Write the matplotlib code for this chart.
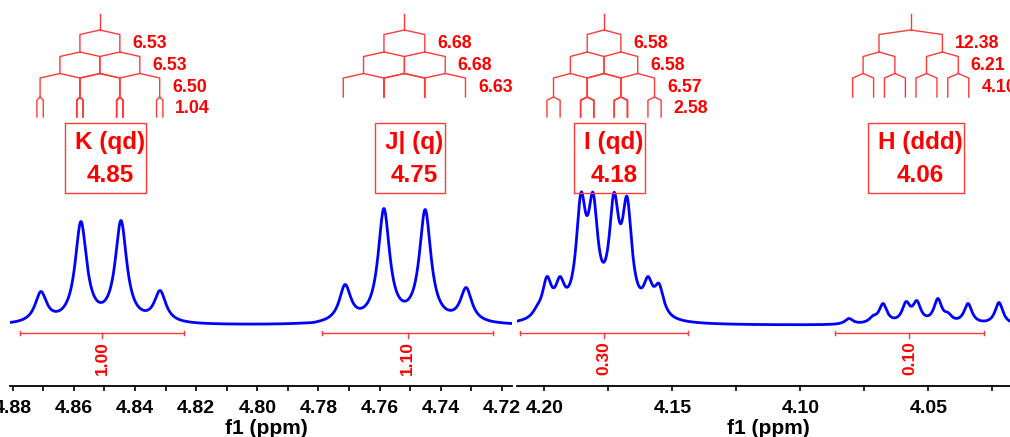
import numpy as np
import matplotlib.pyplot as plt
from matplotlib.patches import Rectangle
from matplotlib.transforms import IdentityTransform

plt.rcParams['font.family'] = ['Liberation Sans', 'DejaVu Sans']
plt.rcParams['font.weight'] = 'bold'

MHZ = 500.0
RED = '#FF0000'
LINE_RED = '#FF3A3A'
BLUE = '#0000FF'

# ---- data ----
# left panel: shift (ppm), height above baseline, half width (ppm)
left_ppm = [4.8708, 4.8577, 4.8446, 4.8318, 4.7818, 4.7713, 4.7586, 4.7451, 4.7317]
left_height = [34, 104, 105, 35, 3, 41, 117, 116, 38]
left_hw = [0.0023, 0.0023, 0.0023, 0.0023, 0.0020, 0.0023, 0.0023, 0.0023, 0.0023]
left_ticks = [4.88, 4.86, 4.84, 4.82, 4.80, 4.78, 4.76, 4.74, 4.72]
left_minor = [4.87, 4.85, 4.83, 4.81, 4.79, 4.77, 4.75, 4.73]

# right panel
right_ppm = [4.2029, 4.1990, 4.1939, 4.1857, 4.1810, 4.1728, 4.1677, 4.1595, 4.1552,
             4.0810, 4.0716, 4.0677, 4.0587, 4.0545, 4.0463, 4.0423, 4.0345, 4.0224]
right_height = [20, 49, 49, 133, 133, 133, 129, 49, 42,
                7, 10, 22, 24, 25, 27, 13, 22, 23]
right_hw = [0.0022, 0.0022, 0.0022, 0.0023, 0.0023, 0.0023, 0.0023, 0.0022, 0.0022,
            0.0019, 0.0019, 0.0019, 0.0019, 0.0019, 0.0019, 0.0019, 0.0019, 0.0019]
right_ticks = [4.20, 4.15, 4.10, 4.05]
right_minor = [4.175, 4.125, 4.075, 4.025]

# multiplets
mult_name = ['K (qd)', 'J| (q)', 'I (qd)', 'H (ddd)']
mult_shift = ['4.85', '4.75', '4.18', '4.06']
mult_center = [4.8515, 4.7519, 4.1767, 4.0569]
mult_J = [[6.53, 6.53, 6.50, 1.04],
          [6.68, 6.68, 6.63],
          [6.58, 6.58, 6.57, 2.58],
          [12.38, 6.21, 4.10]]
mult_panel = [0, 0, 1, 1]

# integrals
int_from = [4.8776, 4.7788, 4.2095, 4.0865]
int_to = [4.8240, 4.7229, 4.1439, 4.0283]
int_value = [1.00, 1.10, 0.30, 0.10]
int_panel = [0, 0, 1, 1]


def spectrum(x, ppm, height, hw):
    ppm = np.array(ppm)
    hw = np.array(hw)
    # amplitudes so that the summed curve hits the read heights at each peak
    m = 1.0 / (1.0 + ((ppm[:, None] - ppm[None, :]) / hw[None, :]) ** 2)
    amp = np.linalg.solve(m, np.array(height, dtype=float))
    lines = amp[None, :] / (1.0 + ((x[:, None] - ppm[None, :]) / hw[None, :]) ** 2)
    return lines.sum(axis=1)


W, H = 1010, 437
fig = plt.figure(figsize=(W / 100, H / 100), dpi=100)

# y data units are pixels above the x axis line
BASE = 60.5

panels = []
for x0, x1, xlim, ticks, minor, ppm, height, hw in [
        (10, 512, (4.8809, 4.7167), left_ticks, left_minor, left_ppm, left_height, left_hw),
        (517, 1010, (4.2107, 4.0181), right_ticks, right_minor, right_ppm, right_height, right_hw)]:
    ax = fig.add_axes([x0 / W, 51 / H, (x1 - x0) / W, 386 / H])
    ax.set_facecolor('none')
    ax.set_xlim(*xlim)
    ax.set_ylim(0, 386)
    for s in ['top', 'left', 'right']:
        ax.spines[s].set_visible(False)
    ax.spines['bottom'].set_linewidth(1.3)
    ax.set_yticks([])
    ax.set_xticks(ticks)
    ax.set_xticklabels(['%.2f' % t for t in ticks])
    ax.set_xticks(minor, minor=True)
    ax.tick_params(axis='x', which='both', direction='out', length=3.3, width=1.2,
                   labelsize=14, pad=6.5)
    ax.set_xlabel('f1 (ppm)', fontsize=15, fontweight='bold')
    ax.xaxis.set_label_coords(0.51, -0.086)

    x = np.linspace(xlim[0], xlim[1], 4000)
    ax.plot(x, BASE + spectrum(x, ppm, height, hw), color=BLUE, lw=2.0)
    panels.append(ax)

# splitting trees, y in pixels from the top of the figure
node_y = [30, 52, 73.5, 97, 117]
label_y = [43, 65, 87.5, 108.5]
boxes = []
for name, shift, c, Js, p in zip(mult_name, mult_shift, mult_center, mult_J, mult_panel):
    ax = panels[p]
    ax.plot([c, c], [386 - 14, 386 - node_y[0]], color=LINE_RED, lw=1.0)
    nodes = [c]
    for k, J in enumerate(Js):
        d = J / MHZ / 2
        slant = 4.5 if k < 3 else 3.3
        new = []
        for n in nodes:
            for s in (d, -d):
                ax.plot([n, n + s, n + s],
                        [386 - node_y[k], 386 - node_y[k] - slant, 386 - node_y[k + 1]],
                        color=LINE_RED, lw=1.0)
                new.append(n + s)
        nodes = new
        ax.annotate('%.2f' % J, (min(nodes), 386 - label_y[k]), xytext=(9, 0),
                    textcoords='offset points', ha='left', va='center',
                    color=RED, fontsize=12.8, fontweight='bold', annotation_clip=False)
    t = ax.annotate(name + '\n' + shift, (c, 386 - 159.2), xytext=(7.2, 0),
                    textcoords='offset points', ha='center', va='center',
                    multialignment='center', linespacing=1.55,
                    color=RED, fontsize=17.5, fontweight='bold', annotation_clip=False)
    boxes.append(t)

# integral bars
for a, b, v, p in zip(int_from, int_to, int_value, int_panel):
    ax = panels[p]
    y = 386 - 332.7
    ax.plot([a, b], [y, y], color=LINE_RED, lw=1.0)
    ax.plot([a, a], [y - 2.2, y + 2.2], color=LINE_RED, lw=1.0)
    ax.plot([b, b], [y - 2.2, y + 2.2], color=LINE_RED, lw=1.0)
    m = (a + b) / 2
    ax.plot([m, m], [y, y - 5.5], color=LINE_RED, lw=1.0)
    ax.text(m, y - 8.5, '%.2f' % v, rotation=90, ha='center', va='top',
            color=RED, fontsize=12.5, fontweight='bold')

# boxes around the multiplet labels
fig.canvas.draw()
r = fig.canvas.get_renderer()
for t in boxes:
    bb = t.get_window_extent(r)
    fig.add_artist(Rectangle((bb.x0 - 10, bb.y0 - 6), bb.width + 11, bb.height + 14,
                             transform=IdentityTransform(), fill=False,
                             edgecolor=LINE_RED, lw=1.0))

fig.savefig('out.png', dpi=100)
